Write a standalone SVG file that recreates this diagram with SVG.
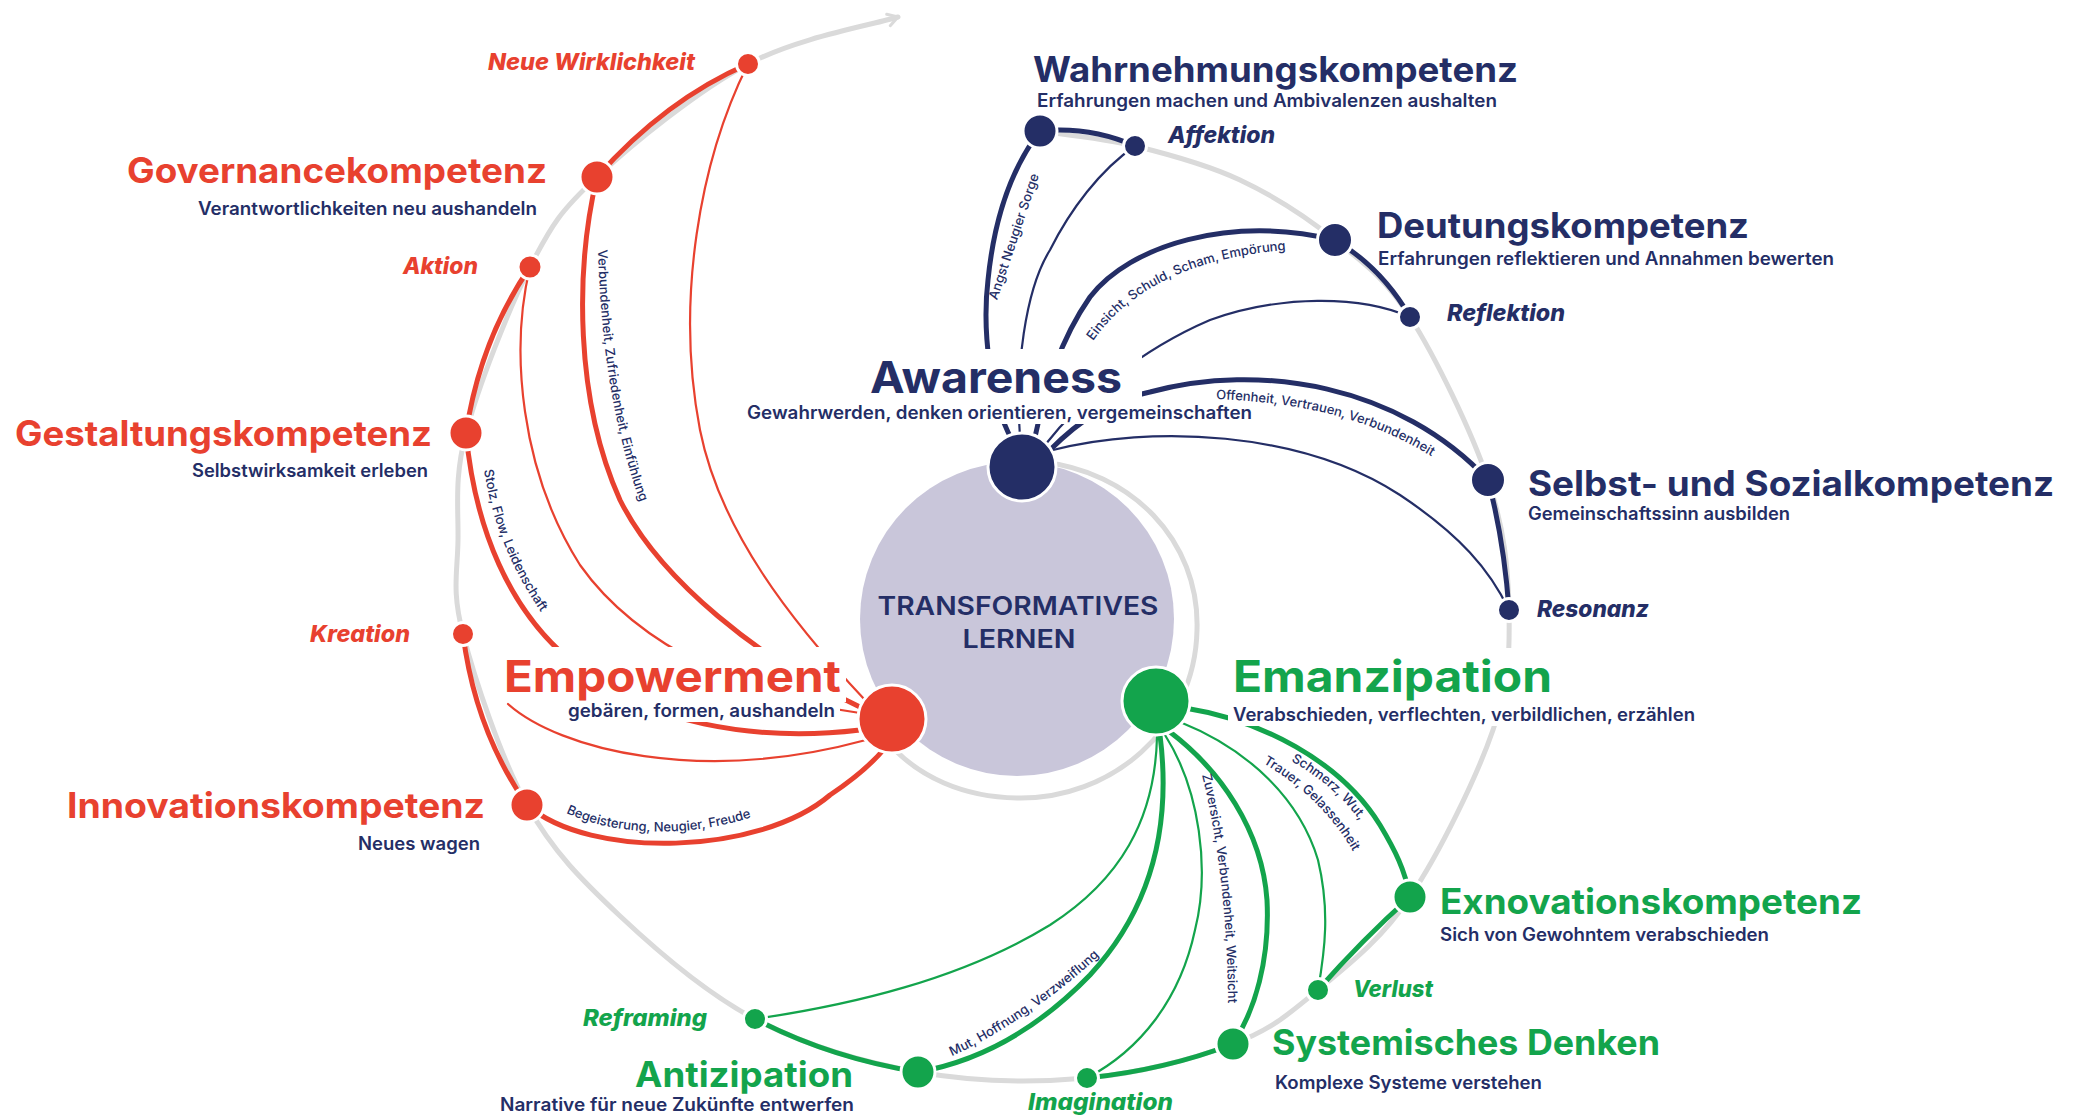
<svg xmlns="http://www.w3.org/2000/svg" width="2077" height="1117" viewBox="0 0 2077 1117">
<defs>
<style>
text{font-family:Inter,'Liberation Sans',Arial,sans-serif;}
.h{font-weight:700;font-size:35px}
.hb{font-weight:700;font-size:44px}
.s{font-weight:600;font-size:18px;fill:#242e66}
.i{font-weight:800;font-style:italic;font-size:23px}
.sm{font-weight:500;font-size:13px;fill:#242e66}
.nv{fill:#242e66}.rd{fill:#e8412f}.gr{fill:#13a44c}
.track{fill:none;stroke:#dadada;stroke-width:5;stroke-linecap:round}
.k{fill:none;stroke-width:5;stroke-linecap:round}
.n{fill:none;stroke-width:2.2;stroke-linecap:round}
.cn{stroke:#242e66}.cr{stroke:#e8412f}.cg{stroke:#13a44c}
.m{fill:#fff}
.d{stroke:#fff;stroke-width:3}
</style>
<marker id="arr" viewBox="0 0 14 16" refX="12" refY="8" markerWidth="14" markerHeight="16" markerUnits="userSpaceOnUse" orient="auto">
<path d="M2,2 L12,8 L2,14" fill="none" stroke="#dadada" stroke-width="3" stroke-linecap="round" stroke-linejoin="round"/>
</marker>
<path id="pL2" d="M 1093 341 C 1133 284, 1203 254, 1302 249"/>
<path id="pL3" d="M 1216 399 C 1290 402, 1370 415, 1440 462"/>
<path id="pL4" d="M 598 250 C 600 320, 608 420, 645 515"/>
<path id="pL5" d="M 484 470 C 492 520, 510 570, 548 622"/>
<path id="pL6" d="M 566 813 C 620 838, 700 838, 766 812"/>
<path id="pL7a" d="M 1291 761 C 1316 775, 1341 794, 1363 825"/>
<path id="pL7b" d="M 1263 763 C 1297 783, 1332 813, 1355 855"/>
<path id="pL8" d="M 1202 775 C 1218 840, 1228 920, 1228 1008"/>
<path id="pL9" d="M 952 1056 C 992 1039, 1062 994, 1109 946"/>
</defs>
<rect width="2077" height="1117" fill="#fff"/>

<g id="center">
<circle cx="1017" cy="619" r="157" fill="#c9c6da"/>
<text x="1018" y="615" text-anchor="middle" font-size="25" font-weight="600" class="nv" textLength="281" lengthAdjust="spacingAndGlyphs">TRANSFORMATIVES</text>
<text x="1019" y="648" text-anchor="middle" font-size="25" font-weight="600" class="nv" textLength="113" lengthAdjust="spacingAndGlyphs">LERNEN</text>
</g>

<g id="connectors">
<path class="track" d="M 1040 462 C 1130 470, 1200 540, 1197 630 C 1195 730, 1110 800, 1017 798 C 960 797, 920 775, 895 750"/>
<path class="track" marker-end="url(#arr)" d="M 1040 131 C 1055.8 133.5, 1101.7 137.8, 1135 146 C 1168.3 154.2, 1206.7 164.3, 1240 180 C 1273.3 195.7, 1306.7 217.2, 1335 240 C 1363.3 262.8, 1384.5 277, 1410 317 C 1435.5 357, 1471.5 431.2, 1488 480 C 1504.5 528.8, 1508.2 568.3, 1509 610 C 1509.8 651.7, 1509.5 682.2, 1493 730 C 1476.5 777.8, 1439.2 853.7, 1410 897 C 1380.8 940.3, 1347.5 965.5, 1318 990 C 1288.5 1014.5, 1271.5 1029.3, 1233 1044 C 1194.5 1058.7, 1139.5 1073.3, 1087 1078 C 1034.5 1082.7, 973.3 1081.8, 918 1072 C 862.7 1062.2, 804.7 1045, 755 1019 C 705.3 993, 658 951.7, 620 916 C 582 880.3, 553.2 852, 527 805 C 500.8 758, 474.5 678.2, 463 634 C 451.5 589.8, 457.5 573.5, 458 540 C 458.5 506.5, 454 478.5, 466 433 C 478 387.5, 508.2 309.7, 530 267 C 551.8 224.3, 560.7 210.8, 597 177 C 633.3 143.2, 697.8 90.7, 748 64 C 798.2 37.3, 873 24.8, 898 17"/>

<path class="k cn" d="M 1040 131 Q 1090 126 1135 146"/>
<path class="k cn" d="M 1335 240 Q 1382 268 1410 317"/>
<path class="k cn" d="M 1488 480 Q 1504 540 1509 610"/>
<path class="k cn" d="M 1012 440 C 990 400, 982 330, 988 280 C 994 220, 1010 170, 1040 131"/>
<path class="n cn" d="M 1020 437 C 1015 370, 1025 290, 1050 250 C 1070 210, 1100 170, 1135 146"/>
<path class="k cn" d="M 1035 437 C 1045 390, 1060 340, 1090 297 C 1130 245, 1230 215, 1335 240"/>
<path class="n cn" d="M 1045 445 C 1080 400, 1140 350, 1210 320 C 1280 295, 1360 295, 1410 317"/>
<path class="k cn" d="M 1050 450 C 1080 420, 1110 400, 1150 392 C 1260 362, 1400 385, 1488 480"/>
<path class="n cn" d="M 1053 450 C 1150 425, 1300 430, 1400 495 C 1460 535, 1490 570, 1509 610"/>

<path class="k cr" d="M 748 64 Q 665 100 597 177"/>
<path class="k cr" d="M 530 267 Q 480 340 466 433"/>
<path class="k cr" d="M 463 634 Q 475 730 527 805"/>
<path class="n cr" d="M 748 64 C 700 160, 675 300, 700 430 C 720 530, 790 620, 865 700"/>
<path class="k cr" d="M 597 177 C 575 270, 575 400, 620 500 C 660 580, 760 660, 862 708"/>
<path class="n cr" d="M 530 267 C 510 350, 520 470, 580 565 C 640 650, 760 700, 860 713"/>
<path class="k cr" d="M 466 433 C 475 530, 510 610, 570 660 C 640 725, 760 742, 860 730"/>
<path class="n cr" d="M 508 704 C 560 750, 700 785, 866 740"/>
<path class="k cr" d="M 527 805 C 590 860, 760 855, 830 795 C 860 775, 875 760, 885 748"/>

<path class="k cg" d="M 1410 897 Q 1362 940 1318 990"/>
<path class="k cg" d="M 1233 1044 Q 1165 1070 1087 1078"/>
<path class="k cg" d="M 918 1072 Q 830 1058 755 1019"/>
<path class="k cg" d="M 1185 708 C 1260 720, 1340 760, 1380 825 C 1395 850, 1405 870, 1410 897"/>
<path class="n cg" d="M 1180 722 C 1250 750, 1300 800, 1318 860 C 1330 910, 1325 950, 1318 990"/>
<path class="k cg" d="M 1170 732 C 1220 770, 1262 830, 1267 900 C 1270 960, 1255 1010, 1233 1044"/>
<path class="n cg" d="M 1165 735 C 1200 790, 1210 870, 1195 930 C 1180 1000, 1140 1050, 1087 1078"/>
<path class="k cg" d="M 1160 735 C 1172 830, 1150 910, 1090 975 C 1035 1032, 975 1062, 918 1072"/>
<path class="n cg" d="M 1157 737 C 1155 820, 1120 880, 1050 925 C 960 980, 850 1005, 755 1019"/>

<text class="sm" transform="translate(1018,238) rotate(-71.4)" text-anchor="middle" textLength="132" lengthAdjust="spacingAndGlyphs">Angst Neugier Sorge</text>
<text class="sm"><textPath href="#pL2">Einsicht, Schuld, Scham, Empörung</textPath></text>
<text class="sm"><textPath href="#pL3">Offenheit, Vertrauen, Verbundenheit</textPath></text>
<text class="sm" font-size="12.5"><textPath href="#pL4">Verbundenheit, Zufriedenheit, Einfühlung</textPath></text>
<text class="sm"><textPath href="#pL5">Stolz, Flow, Leidenschaft</textPath></text>
<text class="sm"><textPath href="#pL6">Begeisterung, Neugier, Freude</textPath></text>
<text class="sm"><textPath href="#pL7a">Schmerz, Wut,</textPath><textPath href="#pL7b">Trauer, Gelassenheit</textPath></text>
<text class="sm" font-size="12.5"><textPath href="#pL8">Zuversicht, Verbundenheit, Weitsicht</textPath></text>
<text class="sm"><textPath href="#pL9">Mut, Hoffnung, Verzweiflung</textPath></text>
</g>

<g id="awareness">
<rect class="m" x="862" y="349" width="280" height="53"/>
<rect class="m" x="743" y="402" width="515" height="22"/>
<circle class="d nv" cx="1022" cy="467" r="34"/>
<text class="hb nv" x="870" y="393" textLength="252" lengthAdjust="spacingAndGlyphs">Awareness</text>
<text class="s" x="747" y="419" font-size="19" textLength="505" lengthAdjust="spacingAndGlyphs">Gewahrwerden, denken orientieren, vergemeinschaften</text>
</g>
<g id="wahrnehmungskompetenz">
<circle class="d nv" cx="1040" cy="131" r="17"/>
<text class="h nv" x="1033" y="82" textLength="485" lengthAdjust="spacingAndGlyphs">Wahrnehmungskompetenz</text>
<text class="s" x="1037" y="107" textLength="460" lengthAdjust="spacingAndGlyphs">Erfahrungen machen und Ambivalenzen aushalten</text>
</g>
<g id="affektion">
<circle class="d nv" cx="1135" cy="146" r="11.5"/>
<text class="i nv" x="1168" y="143" font-size="22" textLength="107" lengthAdjust="spacingAndGlyphs">Affektion</text>
</g>
<g id="deutungskompetenz">
<circle class="d nv" cx="1335" cy="240" r="17.5"/>
<text class="h nv" x="1377" y="238" textLength="372" lengthAdjust="spacingAndGlyphs">Deutungskompetenz</text>
<text class="s" x="1378" y="265" textLength="456" lengthAdjust="spacingAndGlyphs">Erfahrungen reflektieren und Annahmen bewerten</text>
</g>
<g id="reflektion">
<circle class="d nv" cx="1410" cy="317" r="11.5"/>
<text class="i nv" x="1447" y="321" font-size="22" textLength="118" lengthAdjust="spacingAndGlyphs">Reflektion</text>
</g>
<g id="selbst-sozialkompetenz">
<circle class="d nv" cx="1488" cy="480" r="17.5"/>
<text class="h nv" x="1528" y="496" textLength="526" lengthAdjust="spacingAndGlyphs">Selbst- und Sozialkompetenz</text>
<text class="s" x="1528" y="520" textLength="262" lengthAdjust="spacingAndGlyphs">Gemeinschaftssinn ausbilden</text>
</g>
<g id="resonanz">
<circle class="d nv" cx="1509" cy="610" r="11.5"/>
<text class="i nv" x="1537" y="617" font-size="22" textLength="112" lengthAdjust="spacingAndGlyphs">Resonanz</text>
</g>

<g id="empowerment">
<rect class="m" x="498" y="647" width="348" height="55"/>
<rect class="m" x="562" y="702" width="278" height="20"/>
<circle class="d rd" cx="892" cy="719" r="34"/>
<text class="hb rd" x="504" y="692" textLength="337" lengthAdjust="spacingAndGlyphs">Empowerment</text>
<text class="s" x="568" y="717" font-size="19" textLength="267" lengthAdjust="spacingAndGlyphs">gebären, formen, aushandeln</text>
</g>
<g id="neue-wirklichkeit">
<circle class="d rd" cx="748" cy="64" r="11.5"/>
<text class="i rd" x="488" y="70" textLength="207" lengthAdjust="spacingAndGlyphs">Neue Wirklichkeit</text>
</g>
<g id="governancekompetenz">
<circle class="d rd" cx="597" cy="177" r="17"/>
<text class="h rd" x="127" y="183" textLength="420" lengthAdjust="spacingAndGlyphs">Governancekompetenz</text>
<text class="s" x="198" y="215" textLength="339" lengthAdjust="spacingAndGlyphs">Verantwortlichkeiten neu aushandeln</text>
</g>
<g id="aktion">
<circle class="d rd" cx="530" cy="267" r="12"/>
<text class="i rd" x="403" y="274" textLength="75" lengthAdjust="spacingAndGlyphs">Aktion</text>
</g>
<g id="gestaltungskompetenz">
<circle class="d rd" cx="466" cy="433" r="17"/>
<text class="h rd" x="15" y="446" textLength="417" lengthAdjust="spacingAndGlyphs">Gestaltungskompetenz</text>
<text class="s" x="192" y="477" textLength="236" lengthAdjust="spacingAndGlyphs">Selbstwirksamkeit erleben</text>
</g>
<g id="kreation">
<circle class="d rd" cx="463" cy="634" r="11.5"/>
<text class="i rd" x="310" y="642" textLength="100" lengthAdjust="spacingAndGlyphs">Kreation</text>
</g>
<g id="innovationskompetenz">
<circle class="d rd" cx="527" cy="805" r="17"/>
<text class="h rd" x="67" y="818" textLength="418" lengthAdjust="spacingAndGlyphs">Innovationskompetenz</text>
<text class="s" x="358" y="850" textLength="122" lengthAdjust="spacingAndGlyphs">Neues wagen</text>
</g>

<g id="emanzipation">
<rect class="m" x="1228" y="648" width="330" height="54"/>
<rect class="m" x="1228" y="702" width="472" height="24"/>
<circle class="d gr" cx="1156" cy="701" r="34"/>
<text class="hb gr" x="1233" y="692" textLength="319" lengthAdjust="spacingAndGlyphs">Emanzipation</text>
<text class="s" x="1233" y="721" font-size="19" textLength="462" lengthAdjust="spacingAndGlyphs">Verabschieden, verflechten, verbildlichen, erzählen</text>
</g>
<g id="exnovationskompetenz">
<circle class="d gr" cx="1410" cy="897" r="17"/>
<text class="h gr" x="1440" y="914" textLength="422" lengthAdjust="spacingAndGlyphs">Exnovationskompetenz</text>
<text class="s" x="1440" y="941" textLength="329" lengthAdjust="spacingAndGlyphs">Sich von Gewohntem verabschieden</text>
</g>
<g id="verlust">
<circle class="d gr" cx="1318" cy="990" r="11.5"/>
<text class="i gr" x="1353" y="997" textLength="80" lengthAdjust="spacingAndGlyphs">Verlust</text>
</g>
<g id="systemisches-denken">
<circle class="d gr" cx="1233" cy="1044" r="17"/>
<text class="h gr" x="1272" y="1055" textLength="388" lengthAdjust="spacingAndGlyphs">Systemisches Denken</text>
<text class="s" x="1275" y="1089" textLength="267" lengthAdjust="spacingAndGlyphs">Komplexe Systeme verstehen</text>
</g>
<g id="imagination">
<circle class="d gr" cx="1087" cy="1078" r="11.5"/>
<text class="i gr" x="1028" y="1110" textLength="145" lengthAdjust="spacingAndGlyphs">Imagination</text>
</g>
<g id="antizipation">
<circle class="d gr" cx="918" cy="1072" r="17"/>
<text class="h gr" x="635" y="1087" textLength="218" lengthAdjust="spacingAndGlyphs">Antizipation</text>
<text class="s" x="500" y="1111" textLength="354" lengthAdjust="spacingAndGlyphs">Narrative für neue Zukünfte entwerfen</text>
</g>
<g id="reframing">
<circle class="d gr" cx="755" cy="1019" r="11.5"/>
<text class="i gr" x="583" y="1026" textLength="124" lengthAdjust="spacingAndGlyphs">Reframing</text>
</g>
</svg>
